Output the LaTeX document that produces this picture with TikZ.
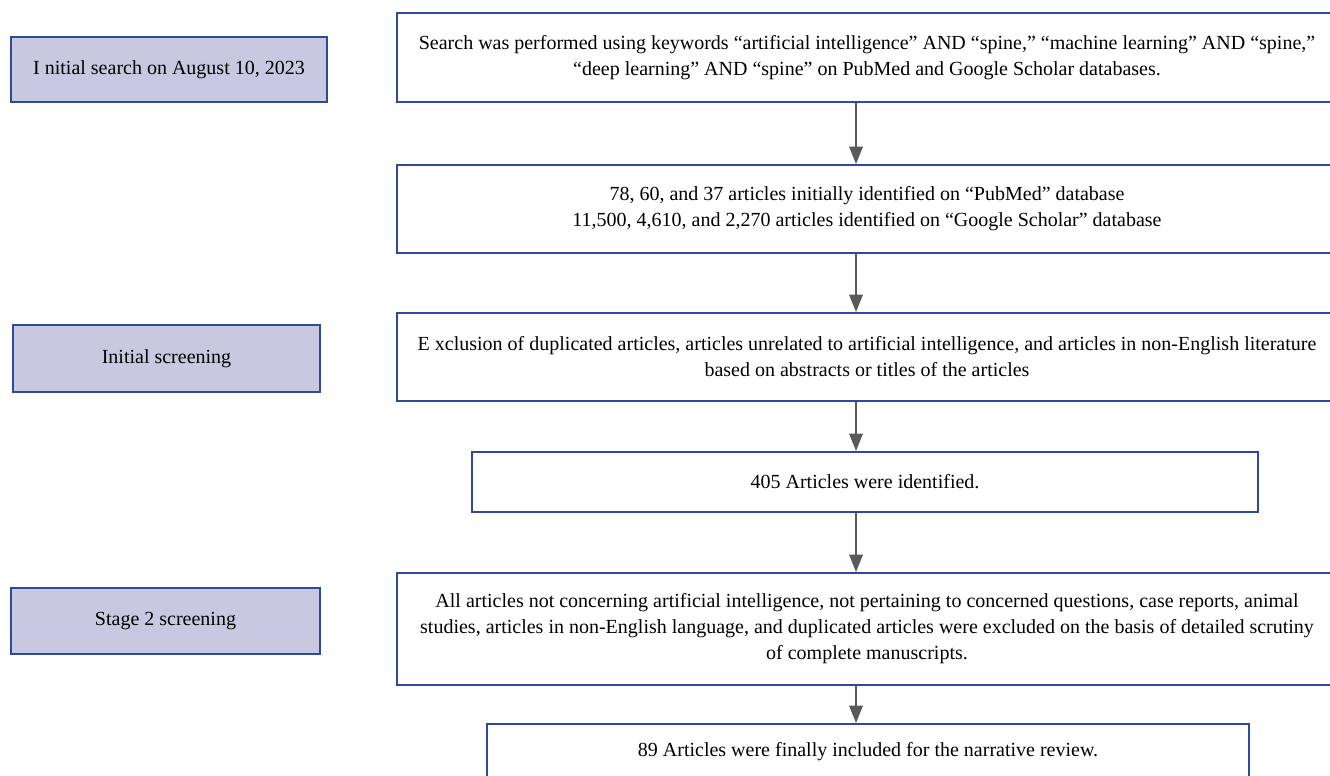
\documentclass[tikz,border=0pt]{standalone}
\usepackage{fontspec}
\setmainfont{Liberation Serif}
\usetikzlibrary{arrows.meta}
\definecolor{bordc}{HTML}{2E4A9A}
\definecolor{fillc}{HTML}{C8C8E0}
\definecolor{arrc}{HTML}{5A5A5A}
\tikzset{
  box/.style={draw=bordc, line width=1.4pt, inner sep=0pt, align=center,
    font=\fontsize{15}{19.5}\selectfont, text=black},
  side/.style={box, fill=fillc},
  flow/.style={draw=arrc, line width=1.5pt, -{Triangle[length=13pt,width=10pt]}}
}
\begin{document}
\begin{tikzpicture}[x=0.75pt,y=-0.75pt]
\useasboundingbox (0,0) rectangle (1330,775);
\clip (0,0) rectangle (1330,775);
% left stage boxes
\node[side, minimum width=237pt, minimum height=48.75pt] (l1) at (169,69.5) {I nitial search on August 10, 2023};
\node[side, minimum width=230.25pt, minimum height=50.25pt] (l2) at (166.5,358.5) {Initial screening};
\node[side, minimum width=231.75pt, minimum height=49.5pt] (l3) at (165.5,621) {Stage 2 screening};
% right flow boxes
\node[box, minimum width=705pt, minimum height=66.75pt] (r1) at (867,57.5)
  {Search was performed using keywords “artificial intelligence” AND “spine,” “machine learning” AND “spine,”\\
   “deep learning” AND “spine” on PubMed and Google Scholar databases.};
\node[box, minimum width=705pt, minimum height=66pt] (r2) at (867,209)
  {78, 60, and 37 articles initially identified on “PubMed” database\\
   11,500, 4,610, and 2,270 articles identified on “Google Scholar” database};
\node[box, minimum width=705pt, minimum height=66pt] (r3) at (867,357)
  {E xclusion of duplicated articles, articles unrelated to artificial intelligence, and articles in non-English literature\\
   based on abstracts or titles of the articles};
\node[box, minimum width=589.5pt, minimum height=45pt] (r4) at (865,482)
  {405 Articles were identified.};
\node[box, minimum width=705pt, minimum height=84pt] (r5) at (867,629)
  {All articles not concerning artificial intelligence, not pertaining to concerned questions, case reports, animal\\
   studies, articles in non-English language, and duplicated articles were excluded on the basis of detailed scrutiny\\
   of complete manuscripts.};
\node[box, minimum width=571.5pt, minimum height=42pt] (r6) at (868,752)
  {89 Articles were finally included for the narrative review.};
% arrows
\coordinate (ax) at (856,0);
\draw[flow] (r1.south -| ax) -- (r2.north -| ax);
\draw[flow] (r2.south -| ax) -- (r3.north -| ax);
\draw[flow] (r3.south -| ax) -- (r4.north -| ax);
\draw[flow] (r4.south -| ax) -- (r5.north -| ax);
\draw[flow] (r5.south -| ax) -- (r6.north -| ax);
\end{tikzpicture}
\end{document}
